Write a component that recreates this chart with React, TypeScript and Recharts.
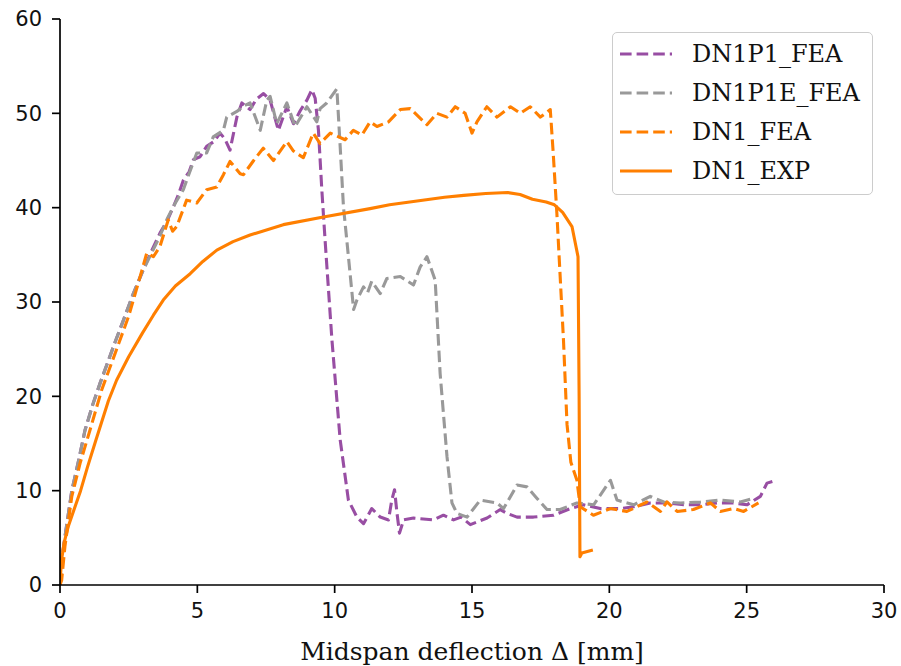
import { LineChart, Line, XAxis, YAxis, Label } from "recharts";

type Pt = [number, number];

const X_TICKS = [0, 5, 10, 15, 20, 25, 30];
const Y_TICKS = [0, 10, 20, 30, 40, 50, 60];
const X_LABEL = "Midspan deflection Δ [mm]";

// load (kN) vs midspan deflection (mm)
const DN1P1_FEA: Pt[] = [
  [0, 0], [0.08, 3], [0.2, 5.5], [0.43, 10], [0.7, 13.5], [0.91, 16.4], [1.2, 19.2],
  [1.46, 21.4], [2, 25.7], [2.3, 28], [2.67, 30.9], [3, 33.2], [3.3, 35.2], [3.64, 37.3],
  [3.9, 38.6], [4.13, 40.1], [4.3, 41.3], [4.49, 42.9], [4.7, 43.8], [4.86, 45.1],
  [5.1, 45.4], [5.34, 46.5], [5.6, 47], [5.83, 47.9], [6.0, 47.3], [6.19, 46.1],
  [6.44, 49.6], [6.62, 51.1], [6.92, 50.4], [7.15, 51.5], [7.41, 52.1], [7.65, 51.4],
  [7.95, 48.2], [8.26, 50.7], [8.5, 48.9], [8.75, 50.3], [8.99, 51.4], [9.17, 52.5],
  [9.29, 51.6], [9.41, 48.2], [9.53, 42], [9.65, 36.6], [9.9, 26], [10.2, 15.4],
  [10.5, 9.0], [10.81, 7.2], [11.05, 6.5], [11.35, 8.1], [11.66, 7.2], [11.96, 6.9],
  [12.08, 9.0], [12.18, 10.1], [12.27, 7.6], [12.36, 5.5], [12.51, 6.9], [12.87, 7.1],
  [13.6, 6.9], [13.96, 7.4], [14.33, 6.9], [14.6, 7.2], [14.94, 6.4], [15.55, 7.1],
  [16.03, 8.0], [16.27, 7.6], [16.64, 7.2], [17.24, 7.2], [17.97, 7.4], [18.58, 8.1],
  [19.06, 8.5], [19.67, 8.1], [20.4, 8.1], [20.89, 8.3], [21.49, 8.7], [22.1, 8.7],
  [22.71, 8.5], [23.32, 8.5], [23.92, 8.7], [24.53, 8.7], [25.01, 8.5], [25.5, 9.4],
  [25.74, 10.8], [26.1, 11.1],
];

const DN1P1E_FEA: Pt[] = [
  [0, 0], [0.08, 3], [0.2, 5.5], [0.43, 10], [0.7, 13.5], [0.91, 16.4], [1.2, 19.2],
  [1.46, 21.4], [2, 25.7], [2.3, 28], [2.67, 30.9], [3, 33.2], [3.3, 35], [3.64, 37],
  [3.9, 38.8], [4.2, 40.5], [4.49, 41.9], [4.75, 44], [4.98, 45.8], [5.34, 45.8],
  [5.58, 47.5], [5.95, 48.2], [6.07, 49.6], [6.44, 50.2], [6.7, 50.8], [6.92, 51.1],
  [7.29, 48.2], [7.53, 51.4], [7.65, 51.8], [7.89, 48.9], [8.26, 51.1], [8.56, 48.6],
  [8.99, 50.7], [9.35, 49.1], [9.47, 50.5], [9.71, 51.1], [10.08, 52.6], [10.2, 46.5],
  [10.32, 40.1], [10.44, 36.6], [10.69, 29.2], [10.81, 30.2], [11.05, 31.6], [11.2, 31.0],
  [11.35, 32.2], [11.66, 30.9], [11.9, 32.5], [12.39, 32.7], [12.87, 31.8], [13.11, 33.7],
  [13.36, 34.8], [13.66, 32.3], [13.84, 22.4], [14.09, 13.6], [14.27, 8.7], [14.45, 7.6],
  [14.82, 7.2], [15.3, 9.0], [15.91, 8.7], [16.15, 8.1], [16.64, 10.6], [17.0, 10.4],
  [17.36, 9.2], [17.73, 8.0], [18.21, 8.0], [18.82, 8.7], [19.43, 8.5], [20.04, 11.1],
  [20.28, 9.0], [20.89, 8.5], [21.49, 9.4], [21.98, 8.8], [22.59, 8.7], [23.32, 8.8],
  [24.04, 9.0], [24.77, 8.8], [25.25, 9.2],
];

const DN1_FEA: Pt[] = [
  [0, 0], [0.06, 0.5], [0.18, 4.1], [0.43, 9.4], [0.73, 12.9], [1.09, 16.4], [1.52, 20.7],
  [2, 24.5], [2.5, 28.5], [2.9, 32.5], [3.16, 35.2], [3.4, 34.8], [3.64, 35.9],
  [3.94, 38.7], [4.1, 37.5], [4.25, 38.0], [4.61, 40.8], [4.98, 40.5], [5.34, 41.9],
  [5.71, 42.2], [5.95, 43.5], [6.19, 44.9], [6.56, 43.6], [6.68, 43.5], [7.05, 45.0],
  [7.4, 46.3], [7.77, 45.0], [8.26, 47.0], [8.5, 46.0], [8.86, 45.3], [9.22, 47.9],
  [9.47, 46.8], [9.84, 47.9], [10.38, 47.2], [10.68, 48.2], [10.99, 47.7], [11.29, 49.1],
  [11.54, 48.6], [11.96, 49.1], [12.39, 50.4], [12.75, 50.5], [13.36, 48.8], [13.72, 50.0],
  [14.09, 49.6], [14.39, 50.7], [14.75, 50.0], [15.0, 47.9], [15.18, 49.1], [15.54, 50.7],
  [15.91, 49.6], [16.4, 50.7], [16.76, 50.0], [17.12, 50.7], [17.49, 49.6], [17.85, 50.4],
  [17.95, 46.1], [18.09, 39.4], [18.33, 26.0], [18.46, 17.0], [18.6, 13], [18.82, 11.1],
  [18.94, 8.3], [19.42, 7.4], [20.04, 8.1], [20.64, 7.8], [21.37, 8.8], [21.86, 7.8],
  [22.1, 8.8], [22.47, 7.8], [23.06, 8.0], [23.68, 8.7], [24.04, 7.8], [24.53, 8.1],
  [24.89, 7.8], [25.43, 8.7],
];

const DN1_EXP: Pt[] = [
  [0, 0], [0.05, 2.5], [0.15, 4.5], [0.3, 6.2], [0.5, 7.9], [0.75, 10], [1, 12.5],
  [1.3, 15.3], [1.76, 19.5], [2.06, 21.7], [2.5, 24.2], [3, 26.7], [3.4, 28.6],
  [3.76, 30.2], [4.2, 31.7], [4.74, 33], [5.2, 34.3], [5.71, 35.5], [6.3, 36.4],
  [6.92, 37.1], [8.13, 38.2], [9.59, 39.0], [11.29, 39.9], [12, 40.3], [13, 40.7],
  [14, 41.1], [14.7, 41.3], [15.5, 41.5], [16.3, 41.6], [16.75, 41.4], [17.2, 40.9],
  [17.7, 40.6], [18.0, 40.3], [18.3, 39.5], [18.64, 38.0], [18.86, 34.8], [18.9, 20],
  [18.93, 3.0], [19.0, 3.4], [19.4, 3.7],
];

const SERIES = [
  { name: "DN1P1_FEA", points: DN1P1_FEA, color: "#984ea3", dashed: true },
  { name: "DN1P1E_FEA", points: DN1P1E_FEA, color: "#999999", dashed: true },
  { name: "DN1_FEA", points: DN1_FEA, color: "#ff7f00", dashed: true },
  { name: "DN1_EXP", points: DN1_EXP, color: "#ff7f00", dashed: false },
];

const DASH = "11.6 5";
const LW = 3.1;
const TICK_STYLE = { fontFamily: "DejaVu Sans", fontSize: 21, fill: "#111" };

function ChartLegend() {
  return (
    <div
      style={{
        position: "absolute",
        left: 612,
        top: 32,
        width: 261,
        height: 163,
        border: "1.5px solid #cccccc",
        borderRadius: 5,
        background: "rgba(255,255,255,0.8)",
        boxSizing: "border-box",
      }}
    >
      {SERIES.map((s, i) => (
        <div
          key={s.name}
          style={{
            position: "absolute",
            left: 7,
            top: 2 + i * 38.9,
            height: 38,
            display: "flex",
            alignItems: "center",
          }}
        >
          <svg width={52} height={8} style={{ display: "block" }}>
            <line
              x1={0}
              x2={52}
              y1={4}
              y2={4}
              stroke={s.color}
              strokeWidth={LW}
              strokeDasharray={s.dashed ? DASH : undefined}
            />
          </svg>
          <span
            style={{
              marginLeft: 20,
              fontFamily: "DejaVu Serif",
              fontSize: 24,
              color: "#111",
              lineHeight: 1,
              whiteSpace: "nowrap",
            }}
          >
            {s.name}
          </span>
        </div>
      ))}
    </div>
  );
}

export default function App() {
  return (
    <div style={{ position: "absolute", left: 0, top: 0, width: 901, height: 666, background: "#fff" }}>
      <LineChart width={901} height={666} margin={{ top: 19, right: 17, left: 0, bottom: 0 }}>
        <XAxis
          type="number"
          dataKey="x"
          domain={[0, 30]}
          ticks={X_TICKS}
          allowDataOverflow
          height={81}
          stroke="#000"
          strokeWidth={1.7}
          tickSize={8}
          tickMargin={10}
          tick={TICK_STYLE}
        >
          <Label
            value={X_LABEL}
            position="insideBottom"
            offset={6}
            style={{ fontFamily: "DejaVu Serif", fontSize: 25, fill: "#111" }}
          />
        </XAxis>
        <YAxis
          type="number"
          domain={[0, 60]}
          ticks={Y_TICKS}
          allowDataOverflow
          width={60}
          stroke="#000"
          strokeWidth={1.7}
          tickSize={8}
          tickMargin={10}
          tick={TICK_STYLE}
        />
        {SERIES.map((s) => (
          <Line
            key={s.name}
            data={s.points.map(([x, y]) => ({ x, y }))}
            dataKey="y"
            name={s.name}
            type="linear"
            stroke={s.color}
            strokeWidth={LW}
            strokeDasharray={s.dashed ? DASH : undefined}
            strokeLinejoin="round"
            dot={false}
            activeDot={false}
            isAnimationActive={false}
          />
        ))}
      </LineChart>
      <ChartLegend />
    </div>
  );
}
